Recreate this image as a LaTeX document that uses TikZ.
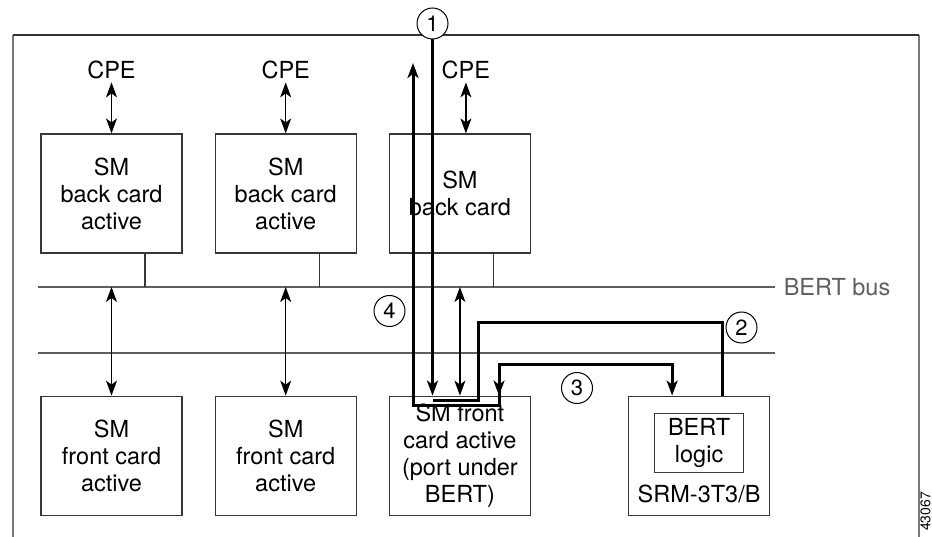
\documentclass[tikz,border=0pt]{standalone}
\usepackage{fontspec}
\setmainfont{TeX Gyre Heros}
\usepackage{tikz}
\usetikzlibrary{arrows.meta,positioning,calc}
\definecolor{frameg}{RGB}{120,120,120}
\definecolor{busg}{RGB}{95,95,95}
\definecolor{boxg}{RGB}{55,55,55}

\begin{document}
\begin{tikzpicture}[x=1pt, y=-1pt,
  every node/.style={font=\fontsize{23.5}{27}\selectfont},
  >={Stealth[length=15pt,width=11pt,inset=4pt]},
  card/.style={draw=boxg, line width=1.2pt, minimum width=141pt,
    minimum height=119pt, align=center, inner sep=0pt},
  num/.style={circle, draw, fill=white, line width=1pt, minimum size=31pt,
    inner sep=0pt, font=\fontsize{22}{24}\selectfont},
  bus/.style={busg, line width=1.6pt},
  link/.style={<->, line width=1.2pt},
  bertpath/.style={line width=3pt}]
\useasboundingbox (0,0) rectangle (932,537);
% shelf outline
\draw[frameg, line width=2.2pt] (13,537) -- (13,35);
\draw[frameg, line width=2.2pt] (919,35) -- (919,537);
\draw[black!80, line width=1.6pt] (13,35) -- (919,35);
% the two buses
\coordinate (busA) at (38,287);
\coordinate (busB) at (38,353);
\draw[bus] (busA) -- ++(737,0)
  node[anchor=west, inner sep=0pt, xshift=8pt] (bertbus) {BERT bus};
\draw[bus] (busB) -- ++(737,0);
% back cards
\node[card] (bk1) at (111.5,193.5) {SM\\back card\\active};
\node[card, right=32pt of bk1] (bk2) {SM\\back card\\active};
\node[card, right=32pt of bk2] (bk3) {SM\\back card};
% front cards
\node[card, below=142pt of bk1] (fc1) {SM\\front card\\active};
\node[card, below=142pt of bk2] (fc2) {SM\\front card\\active};
\node[card, below=142pt of bk3] (fc3) {SM front\\card active\\(port under\\BERT)};
\node[card, right=97pt of fc3] (srm) {};
\node[draw=boxg, line width=1.2pt, minimum width=89pt, minimum height=59pt,
  align=center, inner sep=0pt] (logic) at ([yshift=13pt]srm.center) {BERT\\logic};
\node (srmlbl) at ([yshift=-38.5pt]srm.center) {SRM-3T3/B};
% CPE links
\node[above=51pt of bk1] (cpe1) {CPE};
\node[above=51pt of bk2] (cpe2) {CPE};
\node[above=51pt of bk3, xshift=6pt] (cpe3) {CPE};
\draw[link] (cpe1) -- (bk1);
\draw[link] (cpe2) -- (bk2);
\draw[link] (cpe3.south) -- (cpe3.south |- bk3.north);
% back cards onto the BERT bus
\foreach \c in {bk1,bk2,bk3}
  \draw[boxg, line width=1.2pt] ([xshift=33.5pt]\c.south) -- ([xshift=33.5pt]\c.south |- busA);
% bus to front cards
\foreach \c in {fc1,fc2,fc3}
  \draw[link] (\c.north |- busA) -- (\c.north);
% BERT test paths
\node[num] (n1) at (432.5,23.5) {1};
\node[num] (n2) at (741.5,327.5) {2};
\node[num] (n3) at (577,388) {3};
\node[num] (n4) at (389.5,311) {4};
\coordinate (inL) at (433,400);
\coordinate (inR) at (478,323);
\coordinate (outL) at (413,405);
\coordinate (outR) at (499,365);
\coordinate (ret) at (413,63);
\draw[bertpath, ->] (n1.south) -- (n1.south |- fc3.north);
\draw[bertpath] ([xshift=23pt]srm.north) |- (inR) |- (inL);
\draw[bertpath, <->] (outR |- fc3.north) -- (outR) -| ([xshift=-27pt]srm.north);
\draw[bertpath, ->] (outR) |- (outL) -- (ret);
% figure number
\node[rotate=90, anchor=west, inner sep=0pt, font=\fontsize{14}{16}\selectfont]
  (figno) at (925.5,531) {43067};
\end{tikzpicture}
\end{document}
